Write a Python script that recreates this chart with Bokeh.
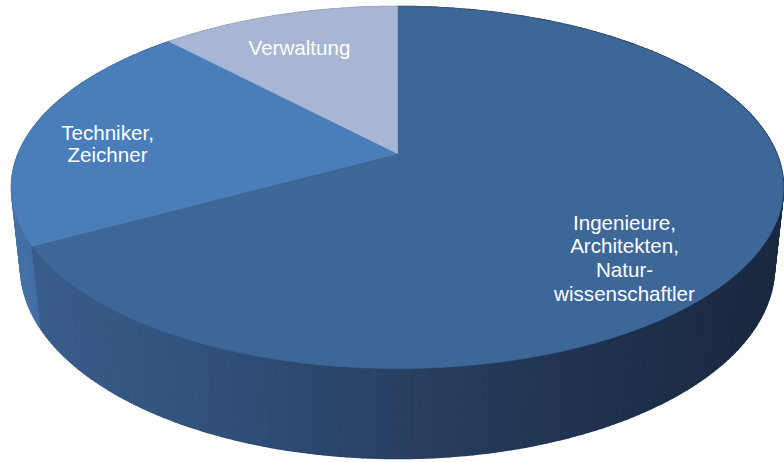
import math
from bokeh.plotting import figure
from bokeh.models import Range1d, ColumnDataSource
from bokeh.core.properties import value
from bokeh.embed import file_html
from bokeh.resources import INLINE

# ---- data ----
categories = ["Ingenieure, Architekten, Natur-wissenschaftler", "Techniker, Zeichner", "Verwaltung"]
shares = [67.0, 21.0, 12.0]
label_lines = [
    ["Ingenieure,", "Architekten,", "Natur-", "wissenschaftler"],
    ["Techniker,", "Zeichner"],
    ["Verwaltung"],
]

# ---- style / layout ----
W, H = 784, 462
top_colors = ["#3D6797", "#4A7EBB", "#A8B6D4"]
side_stops = [
    [(20, (58, 94, 141)), (215, (48, 80, 122)), (415, (40, 63, 97)), (615, (31, 49, 78)), (784, (26, 40, 62))],
    [(0, (72, 116, 171)), (60, (64, 104, 155)), (784, (64, 104, 155))],
    [(0, (150, 165, 195)), (784, (120, 135, 165))],
]
label_anchor = [(624, 221.7), (107, 132.0), (299, 47.3)]  # first-line baseline, px
line_step = [23.7, 21.8, 0]
font_px = "20.6px"

# camera model for the 3D pie
CX, CY = 397.0, 153.0
SIN_PHI = 0.4606
COS_PHI = math.sqrt(1 - SIN_PHI ** 2)
L = 4.726
F = 1791.7
DEPTH = 0.2382


def proj(theta_deg, r=1.0, z=0.0):
    t = math.radians(theta_deg)
    u = r * math.sin(t)
    v = r * math.cos(t)
    zc = L + v * COS_PHI - z * SIN_PHI
    yc = v * SIN_PHI + z * COS_PHI
    return CX + F * u / zc, CY - F * yc / zc


def grad(stops, x):
    if x <= stops[0][0]:
        return stops[0][1]
    for (x0, c0), (x1, c1) in zip(stops, stops[1:]):
        if x0 <= x <= x1:
            f = (x - x0) / (x1 - x0)
            return tuple(c0[i] + f * (c1[i] - c0[i]) for i in range(3))
    return stops[-1][1]


def hexc(c):
    return "#%02x%02x%02x" % tuple(int(round(v)) for v in c)


total = sum(shares)
angles = [0.0]
for s in shares:
    angles.append(angles[-1] + 360.0 * s / total)

# side quads
quads = []
for i in range(len(shares)):
    a0, a1 = angles[i], angles[i + 1]
    n = max(2, int(math.ceil((a1 - a0) / 1.0)))
    for k in range(n):
        t0 = a0 + (a1 - a0) * k / n
        t1 = a0 + (a1 - a0) * (k + 1) / n
        p1 = proj(t0); p2 = proj(t1)
        p3 = proj(t1, z=-DEPTH); p4 = proj(t0, z=-DEPTH)
        xm = (p1[0] + p2[0]) / 2
        vmid = math.cos(math.radians((t0 + t1) / 2))
        quads.append((vmid, [p1[0], p2[0], p3[0], p4[0]], [p1[1], p2[1], p3[1], p4[1]],
                      hexc(grad(side_stops[i], xm))))
quads.sort(key=lambda q: -q[0])

p = figure(width=W, height=H, x_range=Range1d(0, W), y_range=Range1d(H, 0),
           output_backend="svg", toolbar_location=None, min_border=0,
           x_axis_type=None, y_axis_type=None)
p.grid.visible = False
p.outline_line_color = None
p.background_fill_color = "white"
p.border_fill_color = "white"

side_src = ColumnDataSource(dict(xs=[q[1] for q in quads], ys=[q[2] for q in quads],
                                 c=[q[3] for q in quads]))
p.patches("xs", "ys", source=side_src, fill_color="c", line_color="c", line_width=1.6,
          line_join="round")

# top faces
txs, tys = [], []
for i in range(len(shares)):
    a0, a1 = angles[i], angles[i + 1]
    n = max(4, int(math.ceil((a1 - a0) / 0.5)))
    xs = [CX]; ys = [CY]
    for k in range(n + 1):
        x, y = proj(a0 + (a1 - a0) * k / n)
        xs.append(x); ys.append(y)
    txs.append(xs); tys.append(ys)
top_src = ColumnDataSource(dict(xs=txs, ys=tys, c=top_colors))
p.patches("xs", "ys", source=top_src, fill_color="c", line_color="c", line_width=0.6)

# labels
lx, ly, lt = [], [], []
for i, lines in enumerate(label_lines):
    ax, ay = label_anchor[i]
    for j, line in enumerate(lines):
        lx.append(ax); ly.append(ay + j * line_step[i]); lt.append(line)
p.text(x=lx, y=ly, text=lt, text_color="white", text_align="center",
       text_baseline="alphabetic", text_font=value("Liberation Sans"),
       text_font_size=font_px)

open("out.html", "w").write(file_html(p, INLINE))
